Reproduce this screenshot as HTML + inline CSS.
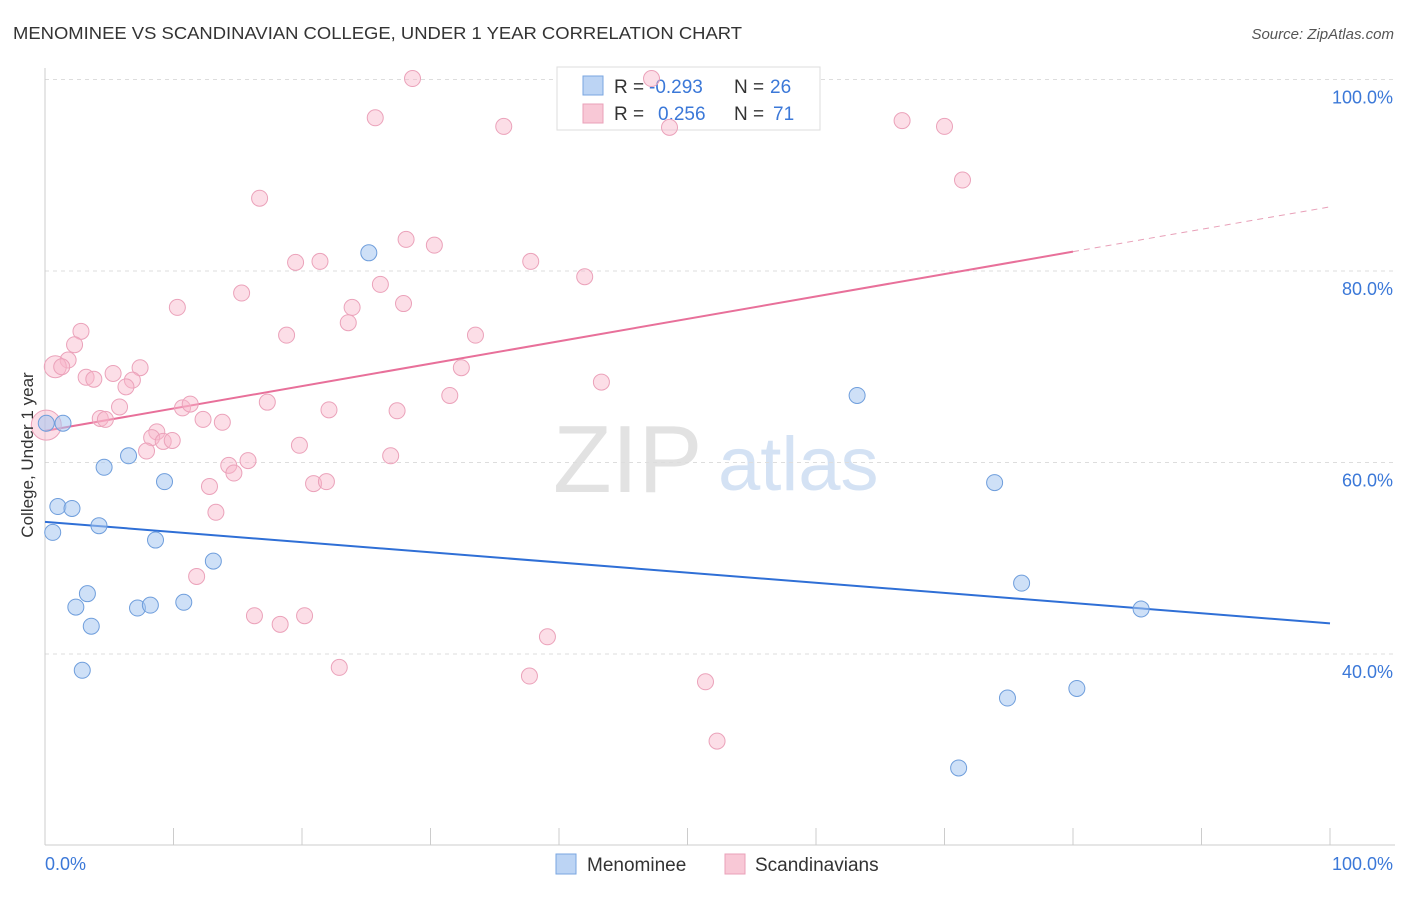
<!DOCTYPE html>
<html><head><meta charset="utf-8"><style>
body{margin:0;background:#fff;font-family:"Liberation Sans",sans-serif}
svg text{font-family:"Liberation Sans",sans-serif}
</style></head><body>
<svg id="chart" width="1406" height="892">
<text x="13" y="39" font-size="17.5" fill="#333" textLength="729" lengthAdjust="spacingAndGlyphs">MENOMINEE VS SCANDINAVIAN COLLEGE, UNDER 1 YEAR CORRELATION CHART</text>
<text x="1394" y="39" font-size="15" fill="#555" font-style="italic" text-anchor="end">Source: ZipAtlas.com</text>
<g>
<text x="553" y="492" font-size="96" fill="#e2e2e2" font-family="Liberation Serif, serif">ZIP</text>
<text x="718" y="490" font-size="76" fill="#d4e2f4">atlas</text>
</g>
<g id="grid"></g><g id="axes"></g><g id="lines"></g>
<g>
<rect x="557" y="67" width="263" height="63" fill="#fff" stroke="#ddd"/>
<rect x="583" y="76" width="20" height="19" fill="#bcd4f4" stroke="#7aa6e0"/>
<rect x="583" y="104" width="20" height="19" fill="#f8c8d6" stroke="#eaa0b8"/>
<text x="614" y="93" font-size="19" fill="#333">R =</text>
<text x="649" y="93" font-size="19" fill="#3b78d8">-0.293</text>
<text x="734" y="93" font-size="19" fill="#333">N =</text>
<text x="770" y="93" font-size="19" fill="#3b78d8">26</text>
<text x="614" y="120" font-size="19" fill="#333">R =</text>
<text x="658" y="120" font-size="19" fill="#3b78d8">0.256</text>
<text x="734" y="120" font-size="19" fill="#333">N =</text>
<text x="773" y="120" font-size="19" fill="#3b78d8">71</text>
</g>
<g id="pts"></g>
<text x="33" y="455" font-size="17" fill="#333" text-anchor="middle" transform="rotate(-90 33 455)">College, Under 1 year</text>
<g>
<rect x="556" y="854" width="20" height="20" fill="#bcd4f4" stroke="#7aa6e0"/>
<text x="587" y="871" font-size="19" fill="#333">Menominee</text>
<rect x="725" y="854" width="20" height="20" fill="#f8c8d6" stroke="#eaa0b8"/>
<text x="755" y="871" font-size="19" fill="#333">Scandinavians</text>
</g>
</svg>
<script>
const blueX=[0.1,1.4,4.6,6.5,9.3,1.0,2.1,0.6,4.2,8.6,13.1,3.3,2.4,3.6,7.2,8.2,10.8,2.9,25.2,63.2,73.9,76.0,85.3,74.9,80.3,71.1];
const blueY=[64.1,64.1,59.5,60.7,58.0,55.4,55.2,52.7,53.4,51.9,49.7,46.3,44.9,42.9,44.8,45.1,45.4,38.3,81.9,67.0,57.9,47.4,44.7,35.4,36.4,28.1];
const pinkX=[28.6,47.2,25.7,35.7,48.6,66.7,70.0,71.4,16.7,28.1,30.3,19.5,21.4,37.8,42.0,26.1,15.3,10.3,23.9,27.9,23.6,18.8,33.5,2.8,2.3,1.8,0.8,1.3,7.4,5.3,3.2,3.8,6.8,6.3,32.4,43.3,31.5,17.3,10.7,11.3,22.1,27.4,5.8,4.3,4.7,12.3,13.8,8.7,8.3,9.2,9.9,7.9,19.8,0.1,14.3,15.8,14.7,26.9,12.8,20.9,21.9,13.3,11.8,16.3,18.3,20.2,22.9,39.1,37.7,51.4,52.3];
const pinkY=[100.1,100.1,96.0,95.1,95.0,95.7,95.1,89.5,87.6,83.3,82.7,80.9,81.0,81.0,79.4,78.6,77.7,76.2,76.2,76.6,74.6,73.3,73.3,73.7,72.3,70.7,70.0,70.0,69.9,69.3,68.9,68.7,68.6,67.9,69.9,68.4,67.0,66.3,65.7,66.1,65.5,65.4,65.8,64.6,64.5,64.5,64.2,63.2,62.6,62.2,62.3,61.2,61.8,63.9,59.7,60.2,58.9,60.7,57.5,57.8,58.0,54.8,48.1,44.0,43.1,44.0,38.6,41.8,37.7,37.1,30.9];
const blueTrend=[53.8,43.2];
const pinkTrend=[63.3,86.7];
const pinkSolidEnd=80;
const yTicks=[40,60,80,100];
const xTickVals=[0,10,20,30,40,50,60,70,80,90,100];
const NS="http://www.w3.org/2000/svg";
const X=v=>45+v*12.85, Y=v=>1037-v*9.575;
function mk(t,a,p){const e=document.createElementNS(NS,t);for(const k in a)e.setAttribute(k,a[k]);document.getElementById(p).appendChild(e);return e;}
yTicks.forEach(t=>{
 const g=mk('line',{x1:45,x2:1395,y1:Y(t),y2:Y(t),stroke:'#ddd','stroke-dasharray':'4 4'},'grid');
 
 
 const l=mk('text',{x:1393,y:Y(t)+24,'font-size':18,fill:'#3b78d8','text-anchor':'end'},'axes');
 l.textContent=t.toFixed(1)+'%';
 
 
});
const ax=mk('line',{x1:45,x2:1395,y1:845,y2:845,stroke:'#ccc'},'axes');


const ay=mk('line',{x1:45,x2:45,y1:68,y2:845,stroke:'#ccc'},'axes');


xTickVals.forEach(t=>{
 const k=mk('line',{x1:X(t),x2:X(t),y1:828,y2:845,stroke:'#ccc'},'axes');
 
 
});
[[0,'start',45],[100,'end',1393]].forEach(([v,a,x])=>{
 const l=mk('text',{x:x,y:870,'font-size':18,fill:'#3b78d8','text-anchor':a},'axes');
 l.textContent=v.toFixed(1)+'%';
 
 
});
const bl=mk('line',{x1:X(0),y1:Y(blueTrend[0]),x2:X(100),y2:Y(blueTrend[1]),stroke:'#2f6fd6','stroke-width':2},'lines');


const pAt=v=>pinkTrend[0]+(pinkTrend[1]-pinkTrend[0])*v/100;
const pl=mk('line',{x1:X(0),y1:Y(pAt(0)),x2:X(pinkSolidEnd),y2:Y(pAt(pinkSolidEnd)),stroke:'#e8709a','stroke-width':2},'lines');


const pd=mk('line',{x1:X(pinkSolidEnd),y1:Y(pAt(pinkSolidEnd)),x2:X(100),y2:Y(pAt(100)),stroke:'#e8a0b8','stroke-width':1,'stroke-dasharray':'6 5'},'lines');


pinkX.forEach((x,i)=>{
 const c=mk('circle',{cx:X(x),cy:Y(pinkY[i]),r:(i==53?15:(i==26?11:8)),fill:'rgba(248,182,202,0.45)',stroke:'#eba2ba','stroke-width':1},'pts');
 
 
});
blueX.forEach((x,i)=>{
 const c=mk('circle',{cx:X(x),cy:Y(blueY[i]),r:8,fill:'rgba(166,198,240,0.55)',stroke:'#6f9edc','stroke-width':1},'pts');
 
 
});
</script>
</body></html>
